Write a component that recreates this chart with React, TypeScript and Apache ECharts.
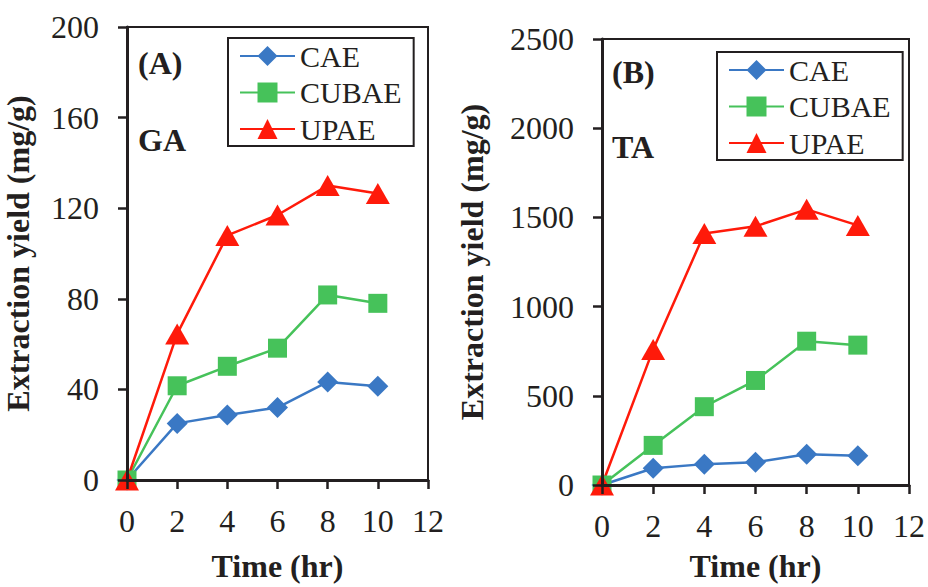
import React, { useEffect, useRef } from "react";
import * as echarts from "echarts";

const timeHr = [0, 2, 4, 6, 8, 10];
const seriesNames = ["CAE", "CUBAE", "UPAE"];
const gaCAE = [0, 25, 28.7, 32, 43.3, 41.4];
const gaCUBAE = [0, 41.6, 50.2, 58.2, 81.7, 78];
const gaUPAE = [0, 64.5, 108, 117, 130, 126.5];
const taCAE = [0, 94, 117, 127, 172, 164];
const taCUBAE = [0, 222, 439, 586, 806, 784];
const taUPAE = [0, 760, 1410, 1450, 1545, 1455];
const xTicks = { min: 0, max: 12, interval: 2 };
const gaTicks = { min: 0, max: 200, interval: 40 };
const taTicks = { min: 0, max: 2500, interval: 500 };

const INK = "#231f20";
const FONT = '"Liberation Serif", "Times New Roman", serif';
const COLORS = ["#3a78c4", "#46c25a", "#ff1a0a"];
const SYMBOLS = ["diamond", "rect", "triangle"];
const SYMSIZE: any[] = [[21, 21], 19, [24, 21]];

function pairs(ys: number[]) {
  return timeHr.map((t, i) => [t, ys[i]]);
}

function xAxisCfg(gridIndex: number, nameGap: number) {
  return {
    type: "value",
    gridIndex,
    ...xTicks,
    z: 10,
    axisLine: { show: true, onZero: false, lineStyle: { color: INK, width: 3 } },
    axisTick: { show: true, inside: false, length: 9, lineStyle: { color: INK, width: 2.5 } },
    axisLabel: { fontSize: 32, fontFamily: FONT, color: INK, margin: 25, formatter: (v: number) => String(v) },
    splitLine: { show: false },
    name: "Time (hr)",
    nameLocation: "middle",
    nameGap,
    nameTextStyle: { fontSize: 32, fontWeight: "bold", fontFamily: FONT, color: INK },
  };
}

function yAxisCfg(gridIndex: number, ticks: any, nameGap: number) {
  return {
    type: "value",
    gridIndex,
    ...ticks,
    z: 10,
    axisLine: { show: true, onZero: false, lineStyle: { color: INK, width: 3 } },
    axisTick: { show: true, inside: false, length: 9, lineStyle: { color: INK, width: 2.5 } },
    axisLabel: { fontSize: 32, fontFamily: FONT, color: INK, margin: 28, formatter: (v: number) => String(v) },
    splitLine: { show: false },
    name: "Extraction yield (mg/g)",
    nameLocation: "middle",
    nameGap,
    nameTextStyle: { fontSize: 32, fontWeight: "bold", fontFamily: FONT, color: INK },
  };
}

function legendCfg(left: number, top: number) {
  return {
    left,
    top,
    orient: "vertical",
    data: seriesNames,
    itemWidth: 55,
    itemHeight: 25,
    itemGap: 6.5,
    padding: [3, 12, 2, 11],
    borderColor: INK,
    borderWidth: 2,
    borderRadius: 0,
    backgroundColor: "#fff",
    textStyle: { fontSize: 30, fontFamily: FONT, color: INK, lineHeight: 30 },
  };
}

function panelSeries(idx: number, data: number[][]) {
  return data.map((ys, k) => ({
    name: seriesNames[k],
    type: "line",
    xAxisIndex: idx,
    yAxisIndex: idx,
    data: pairs(ys),
    symbol: SYMBOLS[k],
    symbolSize: SYMSIZE[k],
    showAllSymbol: true,
    clip: false,
    itemStyle: { color: COLORS[k] },
    lineStyle: { color: COLORS[k], width: 2.5 },
    emphasis: { disabled: true },
  }));
}

export default function App() {
  const ref = useRef<HTMLDivElement>(null);
  useEffect(() => {
    if (!ref.current) return;
    const chart = echarts.init(ref.current, undefined, { renderer: "svg" });
    const label = (text: string, x: number, y: number) => ({
      type: "text",
      z: 20,
      style: {
        text,
        x,
        y,
        fontSize: 32,
        fontWeight: "bold",
        fontFamily: FONT,
        fill: INK,
        verticalAlign: "middle",
      },
    });
    chart.setOption({
      animation: false,
      backgroundColor: "#fff",
      grid: [
        { left: 127, top: 27, width: 301, height: 457, show: true, borderColor: INK, borderWidth: 2, backgroundColor: "transparent" },
        { left: 602, top: 39, width: 309, height: 454, show: true, borderColor: INK, borderWidth: 2, backgroundColor: "transparent" },
      ],
      xAxis: [xAxisCfg(0, 70), xAxisCfg(1, 65)],
      yAxis: [yAxisCfg(0, gaTicks, 93), yAxisCfg(1, taTicks, 114)],
      legend: [legendCfg(228, 38), legendCfg(717, 52)],
      series: [
        ...panelSeries(0, [gaCAE, gaCUBAE, gaUPAE]),
        ...panelSeries(1, [taCAE, taCUBAE, taUPAE]),
      ],
      graphic: [
        label("(A)", 138, 63),
        label("GA", 138, 140),
        label("(B)", 612, 72),
        label("TA", 612, 147),
      ],
    });
    return () => chart.dispose();
  }, []);
  return (
    <div
      ref={ref}
      style={{ position: "fixed", left: 0, top: 0, width: 928, height: 587 }}
    />
  );
}
